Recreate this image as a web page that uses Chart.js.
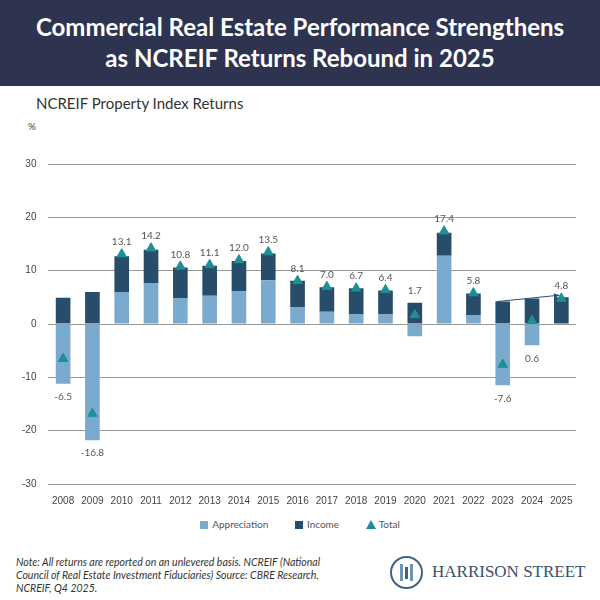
<!DOCTYPE html>
<html>
<head>
<meta charset="utf-8">
<script src="https://cdn.jsdelivr.net/npm/chart.js@4"></script>
<style>
  body { margin: 0; width: 600px; height: 600px; background: #fff; font-family: Lato, "Open Sans", sans-serif; position: relative; overflow: hidden; }
  .header { position: absolute; left: 0; top: 0; width: 600px; height: 86px; background: #2e3450; color: #fff; text-align: center; font-weight: bold; font-size: 24px; line-height: 31px; padding-top: 11px; box-sizing: border-box; }
  .subtitle { position: absolute; left: 36px; top: 94px; font-size: 15px; color: #333; }
  .unit { position: absolute; left: 28px; top: 120px; font-size: 10px; color: #444; }
  #chartBox { position: absolute; left: 10px; top: 146px; width: 580px; height: 364px; }
  .legend { position: absolute; top: 518px; left: 0; width: 600px; text-align: center; font-size: 10px; color: #555; }
  .legend span { margin: 0 12px; }
  .sq { display: inline-block; width: 8px; height: 8px; margin-right: 4px; vertical-align: -1px; }
  .tri { display: inline-block; width: 0; height: 0; border-left: 5px solid transparent; border-right: 5px solid transparent; border-bottom: 9px solid #1f8f96; margin-right: 3px; vertical-align: -1px; }
  .note { position: absolute; left: 16px; top: 556px; width: 310px; font-size: 10.5px; font-style: italic; color: #333; line-height: 13px; }
  .logo { position: absolute; left: 390px; top: 556px; height: 36px; }
  .logo .circle { position: absolute; left: 0; top: 0; width: 29px; height: 29px; border: 2px solid #3f6385; border-radius: 50%; }
  .logo .bar { position: absolute; top: 8px; width: 3px; height: 17px; background: #6f93b5; }
  .logo .name { position: absolute; left: 42px; top: 6px; font-family: "Liberation Serif", serif; font-size: 17px; color: #34506d; white-space: nowrap; }
</style>
</head>
<body>
<div class="header">Commercial Real Estate Performance Strengthens<br>as NCREIF Returns Rebound in 2025</div>
<div class="subtitle">NCREIF Property Index Returns</div>
<div class="unit">%</div>
<div id="chartBox"><canvas id="chart"></canvas></div>
<div class="legend">
  <span><i class="sq" style="background:#7baacf"></i>Appreciation</span>
  <span><i class="sq" style="background:#284d6a"></i>Income</span>
  <span><i class="tri"></i>Total</span>
</div>
<div class="note">Note: All returns are reported on an unlevered basis. NCREIF (National Council of Real Estate Investment Fiduciaries) Source: CBRE Research, NCREIF, Q4 2025.</div>
<div class="logo"><div class="circle"></div><div class="bar" style="left:10px"></div><div class="bar" style="left:15px;height:12px;top:11px;background:#3f6385"></div><div class="bar" style="left:20px"></div><div class="name">HARRISON STREET</div></div>
<script>
const years = ['2008','2009','2010','2011','2012','2013','2014','2015','2016','2017','2018','2019','2020','2021','2022','2023','2024','2025'];
const appreciation = [-11.2, -21.8, 6.0, 7.7, 4.8, 5.3, 6.2, 8.2, 3.2, 2.3, 1.8, 1.8, -2.3, 12.8, 1.7, -11.5, -4.0, 0.0];
const income = [4.9, 6.0, 6.7, 6.2, 5.8, 5.6, 5.6, 5.0, 4.9, 4.6, 4.9, 4.5, 4.0, 4.3, 4.0, 4.2, 4.8, 5.0];
const total = [-6.5, -16.8, 13.1, 14.2, 10.8, 11.1, 12.0, 13.5, 8.1, 7.0, 6.7, 6.4, 1.7, 17.4, 5.8, -7.6, 0.6, 4.8];
const yTicks = [-30, -20, -10, 0, 10, 20, 30];

// value labels above positive bars, below negative ones; arrow from 2023 to 2025
const labelPlugin = {
  id: 'labels',
  afterDatasetsDraw(chart) {
    const { ctx, scales: { x, y } } = chart;
    ctx.save();
    ctx.font = '10px Lato, sans-serif';
    ctx.fillStyle = '#555';
    ctx.textAlign = 'center';
    years.forEach((yr, i) => {
      const cx = x.getPixelForValue(i);
      const t = total[i];
      if (t >= 0 && i !== 16) {
        const top = Math.max(0, appreciation[i]) + income[i];
        ctx.textBaseline = 'bottom';
        ctx.fillText(t.toFixed(1), cx, y.getPixelForValue(Math.max(top, t)) - 7);
      } else {
        const bot = Math.min(0, appreciation[i]);
        ctx.textBaseline = 'top';
        ctx.fillText(t.toFixed(1), cx, y.getPixelForValue(bot) + 8);
      }
    });
    const x1 = x.getPixelForValue(15) - 6, y1 = y.getPixelForValue(income[15]);
    const x2 = x.getPixelForValue(17) - 2, y2 = y.getPixelForValue(income[17] + 0.4);
    ctx.strokeStyle = '#2c4f6e';
    ctx.fillStyle = '#2c4f6e';
    ctx.lineWidth = 1;
    ctx.beginPath(); ctx.moveTo(x1, y1); ctx.lineTo(x2, y2); ctx.stroke();
    const a = Math.atan2(y2 - y1, x2 - x1);
    ctx.beginPath();
    ctx.moveTo(x2, y2);
    ctx.lineTo(x2 - 6 * Math.cos(a - 0.45), y2 - 6 * Math.sin(a - 0.45));
    ctx.lineTo(x2 - 6 * Math.cos(a + 0.45), y2 - 6 * Math.sin(a + 0.45));
    ctx.closePath(); ctx.fill();
    ctx.restore();
  }
};

new Chart(document.getElementById('chart'), {
  type: 'bar',
  data: {
    labels: years,
    datasets: [
      { type: 'line', label: 'Total', data: total, stack: 'total', showLine: false,
        pointStyle: 'triangle', pointRadius: 5.5, pointBackgroundColor: '#1f8f96', pointBorderColor: '#1f8f96', order: 0 },
      { label: 'Appreciation', data: appreciation, backgroundColor: '#7baacf', stack: 's', barPercentage: 0.5, categoryPercentage: 1, order: 1 },
      { label: 'Income', data: income, backgroundColor: '#284d6a', stack: 's', barPercentage: 0.5, categoryPercentage: 1, order: 1 }
    ]
  },
  options: {
    responsive: true,
    maintainAspectRatio: false,
    animation: false,
    layout: { padding: { right: 14 } },
    plugins: { legend: { display: false }, tooltip: { enabled: false } },
    scales: {
      x: { stacked: true, grid: { display: false }, border: { display: false },
           ticks: { color: '#444', font: { size: 10 }, maxRotation: 0, autoSkip: false } },
      y: { stacked: true, min: -30, max: 30,
           afterBuildTicks: s => { s.ticks = yTicks.map(v => ({ value: v })); },
           grid: { color: '#999', drawTicks: false }, border: { display: false },
           ticks: { color: '#444', font: { size: 10 }, padding: 12 } }
    }
  },
  plugins: [labelPlugin]
});
</script>
</body>
</html>
